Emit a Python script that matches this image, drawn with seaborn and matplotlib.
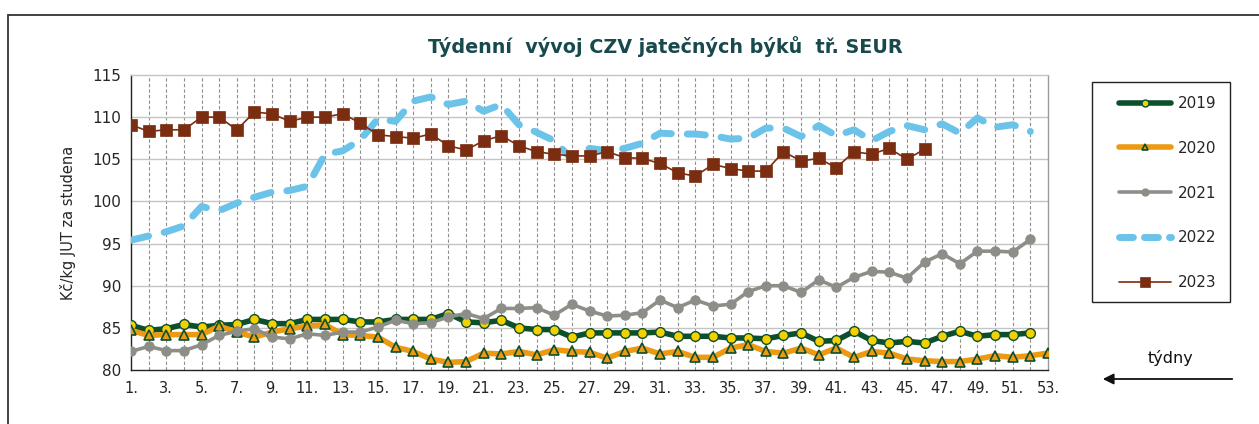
import numpy as np
import pandas as pd
import matplotlib
matplotlib.use("Agg")
import matplotlib.pyplot as plt
import seaborn as sns
from matplotlib.patches import Rectangle, FancyArrowPatch
from matplotlib.lines import Line2D

# weekly prices, Kc/kg JUT za studena
y2019 = [85.3, 84.7, 84.9, 85.4, 85.1, 85.3, 85.4, 86.0, 85.5, 85.5, 86.0, 86.0, 86.0, 85.7, 85.7, 86.0, 86.0, 86.0,
         86.7, 85.7, 85.6, 85.9, 85.0, 84.8, 84.8, 83.9, 84.4, 84.4, 84.4, 84.4, 84.5, 84.0, 84.0, 84.0, 83.8, 83.8,
         83.7, 84.1, 84.4, 83.4, 83.5, 84.6, 83.5, 83.2, 83.4, 83.2, 84.0, 84.6, 84.0, 84.2, 84.2, 84.4]
y2020 = [84.7, 84.1, 84.2, 84.2, 84.2, 85.2, 84.5, 83.9, 84.5, 84.9, 85.2, 85.4, 84.2, 84.1, 83.9, 82.7, 82.2, 81.3,
         80.9, 81.0, 82.0, 81.9, 82.2, 81.8, 82.4, 82.2, 82.1, 81.4, 82.2, 82.6, 81.9, 82.2, 81.5, 81.5, 82.6, 83.0,
         82.2, 82.0, 82.6, 81.8, 82.6, 81.5, 82.2, 82.0, 81.3, 81.1, 81.0, 81.0, 81.3, 81.7, 81.5, 81.7, 82.0]
y2021 = [82.2, 82.8, 82.3, 82.3, 83.0, 84.1, 84.6, 84.9, 83.9, 83.7, 84.3, 84.1, 84.5, 84.5, 85.1, 85.9, 85.5, 85.6,
         86.3, 86.7, 86.1, 87.3, 87.3, 87.4, 86.5, 87.8, 87.0, 86.4, 86.5, 86.8, 88.3, 87.4, 88.3, 87.6, 87.8, 89.3,
         90.0, 90.0, 89.2, 90.7, 89.8, 91.0, 91.7, 91.6, 90.9, 92.8, 93.8, 92.6, 94.1, 94.1, 94.0, 95.5]
y2022 = [95.4, 95.9, 96.4, 97.1, 99.4, 98.9, 99.8, 100.5, 101.1, 101.3, 101.8, 105.6, 106.0, 107.3, 109.8, 109.5, 111.9, 112.4,
         111.5, 111.9, 110.7, 111.5, 109.1, 108.2, 107.2, 105.0, 106.3, 106.0, 106.3, 106.9, 108.1, 108.0, 108.0, 107.8, 107.4, 107.5,
         108.7, 108.7, 107.7, 109.0, 107.8, 108.5, 107.2, 108.3, 109.0, 108.5, 109.2, 108.1, 109.9, 108.8, 109.1, 108.3]
y2023 = [109.1, 108.3, 108.5, 108.5, 110.0, 110.0, 108.5, 110.6, 110.4, 109.5, 110.0, 110.0, 110.4, 109.3, 107.9, 107.7, 107.5, 108.0,
         106.6, 106.1, 107.2, 107.8, 106.6, 105.9, 105.6, 105.4, 105.4, 105.9, 105.2, 105.1, 104.5, 103.4, 103.0, 104.4, 103.9, 103.6,
         103.6, 105.9, 104.8, 105.1, 104.0, 105.9, 105.6, 106.3, 105.0, 106.2]

weeks = list(range(1, 54))
tick_labels = [f"{w}." if w % 2 == 1 else "" for w in weeks]

sns.set_theme(style="white")
plt.rcParams['font.family'] = ['DejaVu Sans']

fig = plt.figure(figsize=(12.59, 4.24), dpi=100)
ax = fig.add_axes([131/1259, 1-370/424, (1048-131)/1259, (370-75)/424])

# styles per year
styles = {
    "2019": dict(color="#0b4f2c", lw=4.0, marker="o", ms=7, mfc="#f5d000", mec="#0b4f2c", mew=1.0),
    "2020": dict(color="#ec9a12", lw=4.0, marker="^", ms=6.5, mfc="#ec9a12", mec="#0b4f2c", mew=1.2),
    "2021": dict(color="#8e8e88", lw=2.6, marker="o", ms=6.5, mfc="#8e8e88", mec="#8e8e88", mew=1.0),
    "2022": dict(color="#6cc3ea", lw=5.0, marker="o", ms=0, mfc="#6cc3ea", mec="#6cc3ea", mew=0),
    "2023": dict(color="#7a2d10", lw=1.2, marker="s", ms=8.5, mfc="#7a2d10", mec="#7a2d10", mew=0.5),
}
series = {"2019": y2019, "2020": y2020, "2021": y2021, "2022": y2022, "2023": y2023}

for i, (yr, vals) in enumerate(series.items()):
    st = styles[yr]
    sns.lineplot(x=weeks[:len(vals)], y=vals, ax=ax, color=st["color"], linewidth=st["lw"],
                 marker=st["marker"], markersize=st["ms"], markerfacecolor=st["mfc"],
                 markeredgecolor=st["mec"], markeredgewidth=st["mew"], zorder=3 + i)

line22 = ax.lines[3]
line22.set_dashes([2.6, 2.3])
line22.set_dash_capstyle("round")
line22.set_solid_capstyle("round")

ax.set_xlim(1, 53)
ax.set_ylim(80, 115)
ax.set_xticks(weeks)
ax.set_xticklabels(tick_labels, fontsize=10.5)
ax.set_yticks(range(80, 116, 5))
ax.set_yticklabels([str(v) for v in range(80, 116, 5)], fontsize=11)
ax.tick_params(axis="x", direction="out", length=5, width=0.8, color="#222", pad=3)
ax.tick_params(axis="y", direction="out", length=4, width=0.8, color="#222", pad=3)

for w in weeks[1:-1]:
    ax.axvline(w, color="#8f8f8f", lw=0.8, ls=(0, (3, 2)), zorder=1)
for v in range(85, 115, 5):
    ax.axhline(v, color="#c4c4c4", lw=1.0, zorder=1)

ax.spines["left"].set_color("#222")
ax.spines["bottom"].set_color("#222")
ax.spines["top"].set_color("#c4c4c4")
ax.spines["right"].set_color("#9a9a9a")
for s in ax.spines.values():
    s.set_linewidth(1.0)

ax.set_xlabel("")
ax.set_ylabel("Kč/kg JUT za studena", fontsize=10.5, labelpad=12)

fig.text(665/1259, 1-47/424, "Týdenní  vývoj CZV jatečných býků  tř. SEUR", ha="center", va="center",
         fontsize=13.8, fontweight="bold", color="#17494d")

# legend (frame drawn separately)
handles = []
for yr in series:
    st = styles[yr]
    h = Line2D([], [], color=st["color"], lw=st["lw"], marker=st["marker"],
               markersize=5 if yr != "2023" else 7, markerfacecolor=st["mfc"],
               markeredgecolor=st["mec"], markeredgewidth=st["mew"])
    if yr == "2022":
        h.set_dashes([2.0, 1.6])
        h.set_dash_capstyle("round")
    handles.append(h)
leg = fig.legend(handles, list(series.keys()), loc="upper left", bbox_to_anchor=(1119/1259, 1-96/424),
                 frameon=False, fontsize=11, labelspacing=1.95, handlelength=3.4,
                 borderpad=0, handletextpad=0.45, borderaxespad=0)
fig.patches.append(Rectangle((1092/1259, 1-302/424), 138/1259, 220/424, transform=fig.transFigure,
                             fill=False, edgecolor="#222", lw=1.0))

# weeks arrow
fig.text(1170/1259, 1-358/424, "týdny", ha="center", va="center", fontsize=11.5, color="#111")
fig.patches.append(FancyArrowPatch((1235/1259, 1-379/424), (1100/1259, 1-379/424),
                                   transform=fig.transFigure, arrowstyle="-|>",
                                   mutation_scale=16, color="#111", lw=1.3))

# outer frame
fig.patches.append(Rectangle((8/1259, -0.05), 1.2, 1-15/424+0.05, transform=fig.transFigure,
                             fill=False, edgecolor="#333", lw=1.3))

fig.savefig("out.png", dpi=100)
